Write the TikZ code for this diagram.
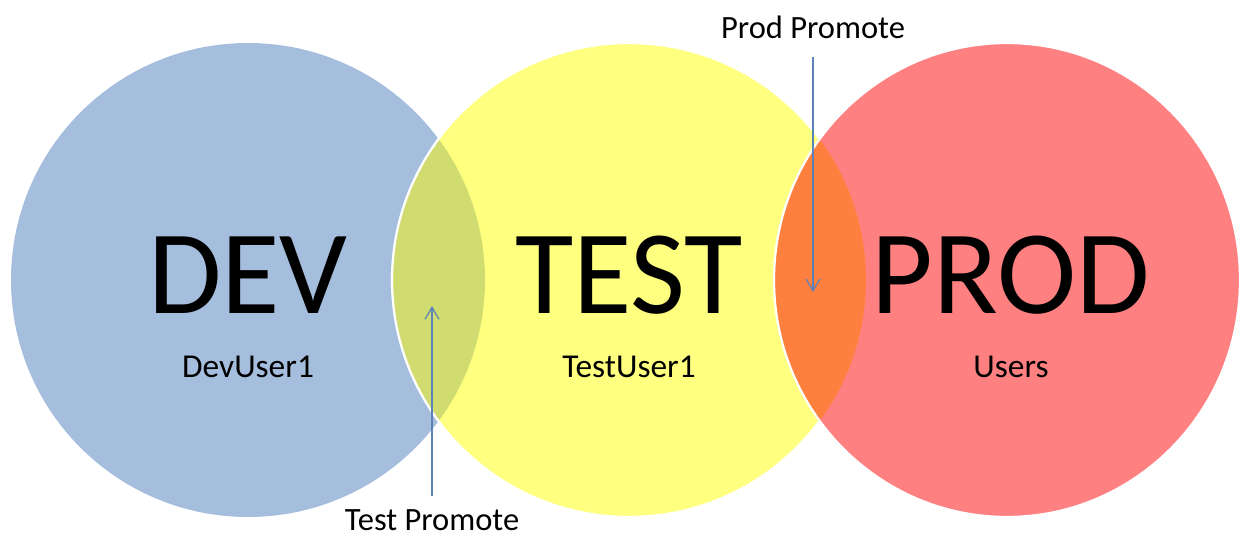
\documentclass[tikz,border=0pt]{standalone}
\usepackage{fontspec}
\setmainfont{Carlito}
\usetikzlibrary{arrows.meta}

\definecolor{devblue}{RGB}{166,190,221}
\definecolor{testyellow}{RGB}{255,255,128}
\definecolor{prodred}{RGB}{255,128,128}
\definecolor{devtest}{RGB}{208,220,112}
\definecolor{testprod}{RGB}{255,128,62}
\definecolor{flowblue}{RGB}{92,130,182}

\begin{document}
\begin{tikzpicture}[x=0.2mm, y=-0.2mm
        , every node/.style={ inner sep=0pt, anchor=base }
        , stage/.style={ font=\fontsize{68}{68}\selectfont }
        , who/.style={ font=\fontsize{19}{19}\selectfont }
        , promote/.style={ font=\fontsize{18.5}{18.5}\selectfont }
        , flow/.style={ draw=flowblue, line width=0.7pt, -{Straight Barb[length=2.4mm,width=2.8mm]} }
        , rim/.style={ draw=white, line width=0.45mm }
        ]

        \useasboundingbox (0,0) rectangle (1244,536);

        \coordinate (cdev) at (248,280);
        \coordinate (ctest) at (629,280);
        \coordinate (cprod) at (1007,280);

        % The three environments, each one lying over the one before.
        \fill[devblue] (cdev) circle[radius=237];
        \fill[testyellow] (ctest) circle[radius=237];
        \begin{scope}
            \clip (cdev) circle[radius=237];
            \fill[devtest] (ctest) circle[radius=237];
        \end{scope}
        \draw[rim] (ctest) circle[radius=237];

        \fill[prodred] (cprod) circle[x radius=233, y radius=237];
        \begin{scope}
            \clip (ctest) circle[radius=237];
            \fill[testprod] (cprod) circle[x radius=233, y radius=237];
        \end{scope}
        \draw[rim] (cprod) circle[x radius=233, y radius=237];

        % Names and users of each environment.
        \foreach \s/\lbl/\x/\who in {dev/DEV/248/DevUser1, test/TEST/629/TestUser1, prod/PROD/1011/Users} {
            \node[stage] (\s name) at (\x,313) {\lbl};
            \node[who] (\s users) at (\x,377) {\who};
        }

        % Promotions go through the overlaps.
        \node[promote] (testpromote) at (432,530) {Test Promote};
        \node[promote] (prodpromote) at (813,38) {Prod Promote};
        \coordinate (testin) at (432,306);
        \coordinate (prodin) at (813,292);

        \draw[flow, shorten <=2.6mm] (testpromote.north) -- (testin);
        \draw[flow, shorten <=3.6mm] (prodpromote.south) -- (prodin);

    \end{tikzpicture}
\end{document}
